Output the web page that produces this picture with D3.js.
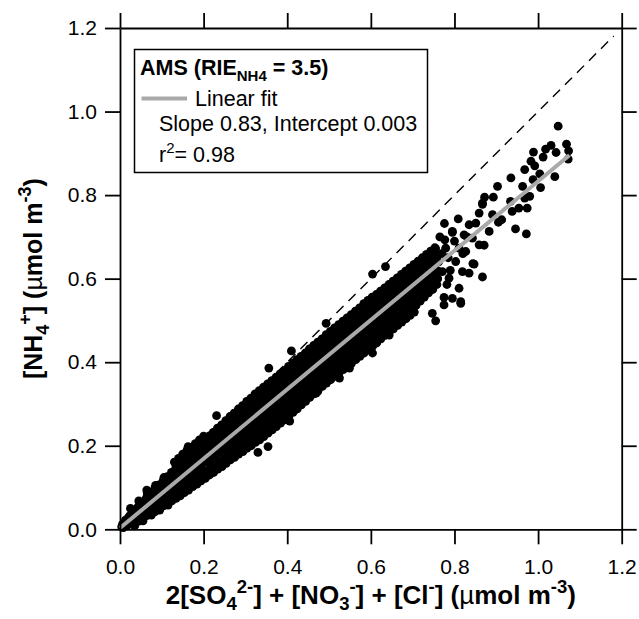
<!DOCTYPE html>
<html><head><meta charset="utf-8">
<script src="https://cdn.jsdelivr.net/npm/d3@7/dist/d3.min.js"></script>
<style>body{margin:0;background:#fff}svg{display:block}</style>
</head><body>
<svg id="c" width="639" height="619"></svg>
<script>
const tickValues = [0, 0.2, 0.4, 0.6, 0.8, 1.0, 1.2];
const fitSlope = 0.83, fitIntercept = 0.003, fitXmax = 1.075;
const legendLines = ["Linear fit", "Slope 0.83, Intercept 0.003"];
// dense core of the cloud
const corePoints = [
[0.008,0.004],[0.010,0.014],[0.013,0.022],[0.004,0.006],[0.006,0.012],
[0.018,0.010],[0.021,0.019],[0.023,0.032],[0.019,0.027],
[0.028,0.014],[0.031,0.026],[0.029,0.038],[0.033,0.045],
[0.038,0.022],[0.041,0.033],[0.040,0.048],[0.043,0.054],[0.044,0.019],
[0.048,0.030],[0.051,0.043],[0.049,0.058],[0.053,0.064],[0.055,0.026],
[0.058,0.036],[0.061,0.050],[0.059,0.068],[0.063,0.075],[0.064,0.033],[0.066,0.085],
[0.068,0.042],[0.071,0.057],[0.069,0.078],[0.073,0.088],[0.074,0.036],
[0.078,0.050],[0.081,0.066],[0.079,0.086],[0.083,0.098],[0.084,0.042],
[0.088,0.058],[0.091,0.074],[0.089,0.094],[0.093,0.106],[0.094,0.050],[0.092,0.084],
[0.098,0.064],[0.101,0.082],[0.099,0.104],[0.103,0.116],[0.104,0.056],[0.102,0.094],
[0.108,0.070],[0.111,0.090],[0.109,0.113],[0.113,0.126],[0.114,0.062],[0.112,0.102],
[0.118,0.078],[0.121,0.099],[0.119,0.122],[0.123,0.136],[0.124,0.068],[0.122,0.110],
[0.128,0.084],[0.131,0.106],[0.129,0.130],[0.133,0.146],[0.134,0.074],[0.132,0.120],
[0.138,0.092],[0.141,0.114],[0.139,0.140],[0.143,0.156],[0.144,0.080],[0.142,0.128],
[0.148,0.098],[0.151,0.122],[0.149,0.148],[0.153,0.166],[0.154,0.088],[0.152,0.136],
[0.158,0.106],[0.161,0.130],[0.159,0.158],[0.163,0.175],[0.164,0.094],[0.162,0.146],
[0.168,0.112],[0.171,0.138],[0.169,0.166],[0.173,0.184],[0.174,0.102],[0.172,0.154],
[0.178,0.120],[0.181,0.146],[0.179,0.174],[0.183,0.194],[0.184,0.108],[0.182,0.162],
[0.188,0.126],[0.191,0.154],[0.189,0.184],[0.193,0.204],[0.194,0.116],[0.192,0.170],
[0.198,0.134],[0.201,0.162],[0.199,0.192],[0.203,0.214],[0.204,0.122],[0.202,0.178],
[0.208,0.140],[0.211,0.170],[0.209,0.200],[0.213,0.222],[0.214,0.130],[0.212,0.186],[0.207,0.160],
[0.218,0.148],[0.221,0.178],[0.219,0.210],[0.223,0.232],[0.224,0.136],[0.222,0.196],[0.217,0.168],
[0.228,0.154],[0.231,0.186],[0.229,0.218],[0.233,0.242],[0.234,0.144],[0.232,0.204],[0.227,0.176],
[0.238,0.162],[0.241,0.194],[0.239,0.228],[0.243,0.250],[0.244,0.150],[0.242,0.212],[0.237,0.184],
[0.248,0.168],[0.251,0.202],[0.249,0.236],[0.253,0.260],[0.254,0.158],[0.252,0.220],[0.247,0.192],
[0.258,0.176],[0.261,0.210],[0.259,0.244],[0.263,0.270],[0.264,0.166],[0.262,0.228],[0.257,0.200],
[0.268,0.182],[0.271,0.218],[0.269,0.254],[0.273,0.278],[0.274,0.172],[0.272,0.236],[0.267,0.208],
[0.278,0.190],[0.281,0.226],[0.279,0.262],[0.283,0.288],[0.284,0.180],[0.282,0.244],[0.277,0.216],
[0.288,0.196],[0.291,0.234],[0.289,0.270],[0.293,0.296],[0.294,0.186],[0.292,0.252],[0.287,0.224],
[0.298,0.204],[0.301,0.242],[0.299,0.280],[0.303,0.306],[0.304,0.194],[0.302,0.260],[0.297,0.232],
[0.308,0.210],[0.311,0.250],[0.309,0.288],[0.313,0.314],[0.314,0.200],[0.312,0.268],[0.307,0.240],
[0.318,0.218],[0.321,0.258],[0.319,0.296],[0.323,0.324],[0.324,0.208],[0.322,0.276],[0.317,0.248],
[0.328,0.226],[0.331,0.266],[0.329,0.304],[0.333,0.332],[0.334,0.214],[0.332,0.284],[0.327,0.256],
[0.338,0.234],[0.341,0.274],[0.339,0.312],[0.343,0.340],[0.344,0.222],[0.342,0.292],[0.337,0.264],
[0.348,0.240],[0.351,0.282],[0.349,0.322],[0.353,0.348],[0.354,0.230],[0.352,0.300],[0.347,0.272],
[0.358,0.248],[0.361,0.290],[0.359,0.330],[0.363,0.356],[0.364,0.238],[0.362,0.308],[0.357,0.280],
[0.368,0.256],[0.371,0.298],[0.369,0.338],[0.373,0.364],[0.374,0.246],[0.372,0.316],[0.367,0.288],
[0.378,0.264],[0.381,0.306],[0.379,0.346],[0.383,0.372],[0.384,0.254],[0.382,0.324],[0.377,0.296],
[0.388,0.272],[0.391,0.314],[0.389,0.356],[0.393,0.380],[0.394,0.262],[0.392,0.334],[0.387,0.304],
[0.398,0.280],[0.401,0.322],[0.399,0.364],[0.403,0.390],[0.404,0.270],[0.402,0.342],[0.397,0.312],
[0.408,0.288],[0.411,0.330],[0.409,0.372],[0.413,0.398],[0.414,0.280],[0.412,0.350],[0.407,0.320],
[0.418,0.296],[0.421,0.338],[0.419,0.380],[0.423,0.406],[0.424,0.288],[0.422,0.360],[0.417,0.328],
[0.428,0.306],[0.431,0.346],[0.429,0.388],[0.433,0.414],[0.434,0.298],[0.432,0.368],[0.427,0.336],
[0.438,0.314],[0.441,0.354],[0.439,0.396],[0.443,0.422],[0.444,0.306],[0.442,0.376],[0.437,0.344],
[0.448,0.322],[0.451,0.362],[0.449,0.404],[0.453,0.432],[0.454,0.316],[0.452,0.384],[0.447,0.352],
[0.458,0.330],[0.461,0.370],[0.459,0.412],[0.463,0.440],[0.464,0.324],[0.462,0.392],[0.457,0.360],
[0.468,0.340],[0.471,0.378],[0.469,0.420],[0.473,0.448],[0.474,0.334],[0.472,0.402],[0.467,0.368],
[0.478,0.348],[0.481,0.386],[0.479,0.428],[0.483,0.456],[0.484,0.342],[0.482,0.410],[0.477,0.376],
[0.488,0.356],[0.491,0.396],[0.489,0.436],[0.493,0.466],[0.494,0.350],[0.492,0.418],[0.487,0.384],
[0.498,0.364],[0.501,0.404],[0.499,0.444],[0.503,0.474],[0.504,0.358],[0.502,0.426],[0.497,0.392],
[0.508,0.372],[0.511,0.412],[0.509,0.452],[0.513,0.482],[0.514,0.366],[0.512,0.434],[0.507,0.400],
[0.518,0.380],[0.521,0.420],[0.519,0.462],[0.523,0.490],[0.524,0.374],[0.522,0.444],[0.517,0.408],
[0.528,0.388],[0.531,0.428],[0.529,0.470],[0.533,0.498],[0.534,0.382],[0.532,0.452],[0.527,0.416],
[0.538,0.396],[0.541,0.436],[0.539,0.478],[0.543,0.506],[0.544,0.390],[0.542,0.460],[0.537,0.424],
[0.548,0.404],[0.551,0.446],[0.549,0.486],[0.553,0.514],[0.554,0.398],[0.552,0.468],[0.547,0.432],
[0.558,0.412],[0.561,0.454],[0.559,0.494],[0.563,0.522],[0.564,0.406],[0.562,0.476],[0.557,0.440],
[0.568,0.420],[0.571,0.462],[0.569,0.502],[0.573,0.530],[0.574,0.414],[0.572,0.484],[0.567,0.448],
[0.578,0.428],[0.581,0.470],[0.579,0.510],[0.583,0.540],[0.584,0.422],[0.582,0.492],[0.577,0.456],
[0.588,0.436],[0.591,0.478],[0.589,0.520],[0.593,0.548],[0.594,0.430],[0.592,0.500],[0.587,0.464],
[0.598,0.444],[0.601,0.486],[0.599,0.528],[0.603,0.556],[0.604,0.438],[0.602,0.510],[0.597,0.472],
[0.608,0.452],[0.611,0.494],[0.609,0.536],[0.613,0.562],[0.614,0.446],[0.612,0.518],[0.607,0.480],
[0.618,0.462],[0.621,0.502],[0.619,0.544],[0.623,0.570],[0.624,0.456],[0.622,0.526],[0.617,0.488],
[0.628,0.470],[0.631,0.510],[0.629,0.552],[0.633,0.578],[0.634,0.464],[0.632,0.534],[0.627,0.496],
[0.638,0.478],[0.641,0.518],[0.639,0.560],[0.643,0.586],[0.644,0.472],[0.642,0.542],[0.637,0.504],
[0.648,0.486],[0.651,0.528],[0.649,0.568],[0.653,0.594],[0.654,0.480],[0.652,0.550],[0.647,0.512],
[0.658,0.494],[0.661,0.536],[0.659,0.576],[0.663,0.602],[0.664,0.488],[0.662,0.558],[0.657,0.520],
[0.668,0.502],[0.671,0.544],[0.669,0.584],[0.673,0.610],[0.674,0.496],[0.672,0.566],[0.667,0.528],
[0.678,0.510],[0.681,0.552],[0.679,0.592],[0.683,0.618],[0.684,0.504],[0.682,0.574],[0.677,0.536],
[0.688,0.518],[0.691,0.560],[0.689,0.600],[0.693,0.626],[0.694,0.512],[0.692,0.582],[0.687,0.544],
[0.698,0.526],[0.701,0.568],[0.699,0.608],[0.703,0.634],[0.704,0.520],[0.702,0.590],[0.697,0.552],
[0.708,0.536],[0.711,0.576],[0.709,0.616],[0.713,0.642],[0.712,0.598],[0.707,0.560],
[0.718,0.546],[0.721,0.584],[0.719,0.624],[0.723,0.650],[0.722,0.606],[0.717,0.566],
[0.728,0.556],[0.731,0.592],[0.729,0.632],[0.733,0.658],[0.732,0.614],[0.727,0.574],
[0.738,0.566],[0.741,0.600],[0.739,0.640],[0.743,0.666],[0.742,0.622],
[0.748,0.574],[0.751,0.608],[0.749,0.648],[0.753,0.674],[0.752,0.630],
[0.758,0.586],[0.761,0.618],[0.759,0.656],[0.762,0.640]
];
// in-between points of the core
const fillPoints = [
[0.025,0.050],[0.035,0.008],[0.045,0.068],[0.055,0.020],[0.065,0.088],[0.075,0.034],
[0.085,0.105],[0.095,0.046],[0.105,0.124],[0.115,0.058],
[0.125,0.089],[0.135,0.097],[0.145,0.106],[0.155,0.114],[0.165,0.121],[0.175,0.131],
[0.185,0.139],[0.195,0.146],
[0.130,0.161],[0.140,0.170],[0.150,0.180],[0.160,0.189],[0.170,0.196],[0.180,0.205],
[0.190,0.214],[0.200,0.223],
[0.215,0.143],[0.215,0.200],[0.215,0.224],[0.225,0.151],[0.225,0.208],[0.225,0.232],
[0.235,0.159],[0.235,0.216],[0.235,0.240],[0.245,0.167],[0.245,0.224],[0.245,0.248],
[0.255,0.176],[0.255,0.233],[0.255,0.257],[0.265,0.184],[0.265,0.241],[0.265,0.265],
[0.275,0.192],[0.275,0.249],[0.275,0.273],[0.285,0.201],[0.285,0.258],[0.285,0.282],
[0.295,0.209],[0.295,0.266],[0.295,0.290],[0.305,0.217],[0.305,0.274],[0.305,0.298],
[0.315,0.226],[0.315,0.283],[0.315,0.307],[0.325,0.234],[0.325,0.291],[0.325,0.315],
[0.335,0.242],[0.335,0.299],[0.335,0.323],[0.345,0.250],[0.345,0.307],[0.345,0.331],
[0.355,0.259],[0.355,0.316],[0.355,0.340],[0.365,0.267],[0.365,0.324],[0.365,0.348],
[0.375,0.275],[0.375,0.332],[0.375,0.356],[0.385,0.284],[0.385,0.341],[0.385,0.365],
[0.395,0.292],[0.395,0.349],[0.395,0.373],[0.405,0.300],[0.405,0.357],[0.405,0.381],
[0.415,0.309],[0.415,0.366],[0.415,0.390],[0.425,0.317],[0.425,0.374],[0.425,0.398],
[0.435,0.325],[0.435,0.382],[0.435,0.406],[0.445,0.333],[0.445,0.390],[0.445,0.414],
[0.455,0.342],[0.455,0.399],[0.455,0.423],[0.465,0.350],[0.465,0.407],[0.465,0.431],
[0.475,0.358],[0.475,0.415],[0.475,0.439],[0.485,0.367],[0.485,0.424],[0.485,0.448],
[0.495,0.375],[0.495,0.432],[0.495,0.456],[0.505,0.383],[0.505,0.440],[0.505,0.464],
[0.515,0.392],[0.515,0.449],[0.515,0.473],[0.525,0.400],[0.525,0.457],[0.525,0.481],
[0.535,0.408],[0.535,0.465],[0.535,0.489],[0.545,0.416],[0.545,0.473],[0.545,0.497],
[0.555,0.425],[0.555,0.482],[0.555,0.506],[0.565,0.433],[0.565,0.490],[0.565,0.514],
[0.575,0.441],[0.575,0.498],[0.575,0.522],[0.585,0.450],[0.585,0.507],[0.585,0.531],
[0.595,0.458],[0.595,0.515],[0.595,0.539],[0.605,0.466],[0.605,0.523],[0.605,0.547],
[0.615,0.475],[0.615,0.532],[0.615,0.556],[0.625,0.483],[0.625,0.540],[0.625,0.564],
[0.635,0.491],[0.635,0.548],[0.635,0.572],[0.645,0.499],[0.645,0.556],[0.645,0.580],
[0.655,0.508],[0.655,0.565],[0.655,0.589],[0.665,0.516],[0.665,0.573],[0.665,0.597],
[0.675,0.524],[0.675,0.581],[0.675,0.605],[0.685,0.533],[0.685,0.590],[0.685,0.614],
[0.695,0.541],[0.695,0.598],[0.695,0.622],[0.705,0.549],[0.705,0.606],[0.705,0.630],
[0.715,0.558],[0.715,0.615],[0.715,0.639],[0.725,0.566],[0.725,0.623],[0.725,0.647],
[0.735,0.574],[0.735,0.631],[0.735,0.655],[0.745,0.582],[0.745,0.639],[0.745,0.663],
[0.755,0.591],[0.755,0.648],[0.755,0.672]
];
// scattered points around and beyond the core
const outerPoints = [
[1.048,0.965],[1.068,0.922],[1.073,0.906],[1.072,0.886],[1.043,0.902],[1.031,0.919],
[1.018,0.910],[1.012,0.891],[0.989,0.903],[0.983,0.881],[0.992,0.870],[0.968,0.861],
[1.004,0.851],[1.040,0.844],[1.006,0.818],[0.988,0.837],[0.963,0.821],[0.935,0.841],
[0.903,0.821],[0.980,0.797],[0.968,0.793],[0.974,0.769],[0.954,0.769],[0.938,0.761],
[0.934,0.785],[0.972,0.707],[0.946,0.719],[0.913,0.741],[0.893,0.795],[0.872,0.795],
[0.867,0.778],[0.859,0.757],[0.891,0.753],[0.905,0.735],[0.883,0.713],[0.851,0.733],
[0.835,0.729],[0.809,0.743],[0.776,0.732],[0.795,0.711],[0.823,0.705],[0.859,0.681],
[0.871,0.680],[0.844,0.636],[0.867,0.604],[0.815,0.545],[0.775,0.555],[0.795,0.553],
[0.819,0.617],[0.803,0.641],[0.779,0.673],[0.811,0.673],[0.827,0.665],[0.787,0.601],
[0.771,0.617],[0.843,0.697],[0.795,0.713],[0.777,0.693],[0.847,0.635],[0.867,0.781],
[0.604,0.611],[0.635,0.629],[0.410,0.427],[0.356,0.386],[0.493,0.493],[0.549,0.501],
[0.525,0.362],[0.549,0.386],[0.604,0.422],[0.644,0.465],[0.755,0.499],[0.775,0.537],
[0.815,0.541],[0.747,0.517],[0.811,0.577],[0.835,0.613],[0.473,0.330],[0.436,0.306],
[0.231,0.272],[0.163,0.198],[0.406,0.259],[0.354,0.198],[0.330,0.184],[0.433,0.306],
[0.469,0.326],[0.064,0.094],[0.785,0.650],[0.800,0.690],[0.790,0.620],[0.830,0.700],
[0.765,0.700],[0.782,0.586],[0.820,0.660],[0.760,0.600],[0.770,0.660]
];

const m = {left: 120, right: 621.7, top: 28, bottom: 529.3};
const svg = d3.select("#c");
const x = d3.scaleLinear().domain([0, 1.2]).range([m.left, m.right]);
const y = d3.scaleLinear().domain([0, 1.2]).range([m.bottom, m.top]);
const FONT = "'Liberation Sans', Arial, Helvetica, sans-serif";

// 1:1 dashed line
svg.append("line")
  .attr("x1", x(0)).attr("y1", y(0)).attr("x2", x(1.181)).attr("y2", y(1.181))
  .attr("stroke", "#000").attr("stroke-width", 1.4).attr("stroke-dasharray", "10,7");

// points
const allPts = corePoints.concat(fillPoints, outerPoints);
svg.append("g").selectAll("circle").data(allPts).join("circle")
  .attr("cx", d => x(d[0])).attr("cy", d => y(d[1])).attr("r", 4.4).attr("fill", "#000");

// fit line
svg.append("line")
  .attr("x1", x(0)).attr("y1", y(fitIntercept))
  .attr("x2", x(fitXmax)).attr("y2", y(fitIntercept + fitSlope * fitXmax))
  .attr("stroke", "#a9a9a9").attr("stroke-width", 4);

// axes
const fmt = d3.format(".1f");
function styleAxis(g) {
  g.selectAll("path.domain").attr("stroke", "#000").attr("stroke-width", 1.8);
  g.selectAll(".tick line").attr("stroke", "#000").attr("stroke-width", 1.8);
  g.selectAll(".tick text").attr("fill", "#000").style("font-family", FONT).style("font-size", "21px");
}
svg.append("g").attr("transform", `translate(0,${m.bottom})`)
  .call(d3.axisBottom(x).tickValues(tickValues).tickFormat(fmt).tickSize(15).tickSizeOuter(0).tickPadding(15))
  .call(styleAxis);
svg.append("g").attr("transform", `translate(0,${m.top})`)
  .call(d3.axisTop(x).tickValues(tickValues).tickFormat("").tickSize(15).tickSizeOuter(0))
  .call(styleAxis);
svg.append("g").attr("transform", `translate(${m.left},0)`)
  .call(d3.axisLeft(y).tickValues(tickValues).tickFormat(fmt).tickSize(15).tickSizeOuter(0).tickPadding(8))
  .call(styleAxis);
svg.append("g").attr("transform", `translate(${m.right},0)`)
  .call(d3.axisRight(y).tickValues(tickValues).tickFormat("").tickSize(15).tickSizeOuter(0))
  .call(styleAxis);

// legend
const LF = "21.5px";
const lg = svg.append("g");
lg.append("rect").attr("x", 134.5).attr("y", 49.5).attr("width", 293).attr("height", 123)
  .attr("fill", "#fff").attr("stroke", "#000").attr("stroke-width", 1.5);
const t1 = lg.append("text").attr("x", 140).attr("y", 75)
  .style("font-family", FONT).style("font-size", LF).style("font-weight", "bold");
t1.append("tspan").text("AMS (RIE");
t1.append("tspan").attr("dy", 6).style("font-size", "15px").text("NH4");
t1.append("tspan").attr("dy", -6).text(" = 3.5)");
lg.append("line").attr("x1", 141.5).attr("x2", 187).attr("y1", 98.5).attr("y2", 98.5)
  .attr("stroke", "#a9a9a9").attr("stroke-width", 4);
lg.append("text").attr("x", 195).attr("y", 106).text(legendLines[0])
  .style("font-family", FONT).style("font-size", LF);
lg.append("text").attr("x", 159).attr("y", 130.7).text(legendLines[1])
  .style("font-family", FONT).style("font-size", LF);
const t4 = lg.append("text").attr("x", 159).attr("y", 161.7)
  .style("font-family", FONT).style("font-size", LF);
t4.append("tspan").text("r");
t4.append("tspan").attr("dy", -9).style("font-size", "15px").text("2");
t4.append("tspan").attr("dy", 9).text("= 0.98");

// axis titles
function seg(t, txt, dy, small, sf) {
  const s = t.append("tspan").text(txt);
  if (dy) s.attr("dy", dy);
  if (small) s.style("font-size", sf);
  return s;
}
const xt = svg.append("text").attr("x", (m.left + m.right) / 2).attr("y", 604)
  .attr("text-anchor", "middle")
  .style("font-family", FONT).style("font-size", "26px").style("font-weight", "bold");
const XS = "18.5px";
seg(xt, "2[SO"); seg(xt, "4", 6, true, XS); seg(xt, "2-", -17, true, XS);
seg(xt, "] + [NO", 11); seg(xt, "3", 6, true, XS); seg(xt, "-", -17, true, XS);
seg(xt, "] + [Cl", 11); seg(xt, "-", -11, true, XS);
seg(xt, "] (", 11); seg(xt, "\u00B5").style("font-weight", "normal"); seg(xt, "mol m");
seg(xt, "-3", -11, true, XS); seg(xt, ")", 11);

const yt = svg.append("text")
  .attr("transform", `translate(42,${(m.top + m.bottom) / 2}) rotate(-90)`)
  .attr("text-anchor", "middle")
  .style("font-family", FONT).style("font-size", "25px").style("font-weight", "bold");
const YS = "18px";
seg(yt, "[NH"); seg(yt, "4", 7, true, YS); seg(yt, "+", -18, true, YS);
seg(yt, "] (", 11); seg(yt, "\u00B5").style("font-weight", "normal"); seg(yt, "mol m");
seg(yt, "-3", -11, true, YS); seg(yt, ")", 11);
</script>
</body></html>
